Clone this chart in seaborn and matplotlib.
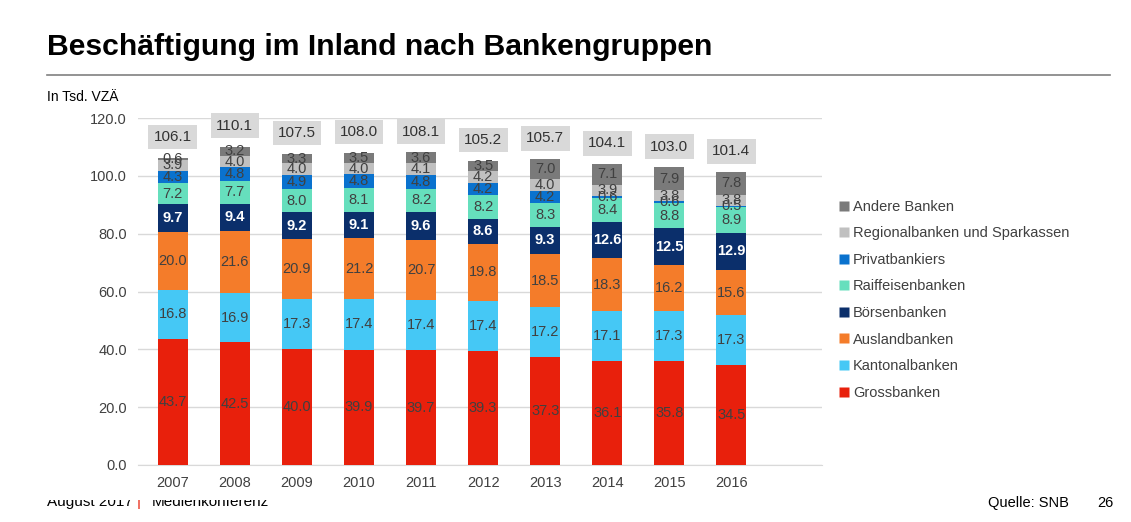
import matplotlib
matplotlib.use("Agg")
import matplotlib.pyplot as plt
from matplotlib.patches import Rectangle
from matplotlib.lines import Line2D
import seaborn as sns
import pandas as pd
import numpy as np

years = [2007, 2008, 2009, 2010, 2011, 2012, 2013, 2014, 2015, 2016]
grossbanken = [43.7, 42.5, 40.0, 39.9, 39.7, 39.3, 37.3, 36.1, 35.8, 34.5]
kantonalbanken = [16.8, 16.9, 17.3, 17.4, 17.4, 17.4, 17.2, 17.1, 17.3, 17.3]
auslandbanken = [20.0, 21.6, 20.9, 21.2, 20.7, 19.8, 18.5, 18.3, 16.2, 15.6]
boersenbanken = [9.7, 9.4, 9.2, 9.1, 9.6, 8.6, 9.3, 12.6, 12.5, 12.9]
raiffeisenbanken = [7.2, 7.7, 8.0, 8.1, 8.2, 8.2, 8.3, 8.4, 8.8, 8.9]
privatbankiers = [4.3, 4.8, 4.9, 4.8, 4.8, 4.2, 4.2, 0.6, 0.6, 0.5]
regionalbanken = [3.9, 4.0, 4.0, 4.0, 4.1, 4.2, 4.0, 3.9, 3.8, 3.8]
andere = [0.6, 3.2, 3.3, 3.5, 3.6, 3.5, 7.0, 7.1, 7.9, 7.8]
totals = [106.1, 110.1, 107.5, 108.0, 108.1, 105.2, 105.7, 104.1, 103.0, 101.4]

# bottom -> top
series_names = ["Grossbanken", "Kantonalbanken", "Auslandbanken", "Börsenbanken",
                "Raiffeisenbanken", "Privatbankiers", "Regionalbanken und Sparkassen",
                "Andere Banken"]
series_values = [grossbanken, kantonalbanken, auslandbanken, boersenbanken,
                 raiffeisenbanken, privatbankiers, regionalbanken, andere]
colors = ["#E8200C", "#45C8F5", "#F47C2A", "#0B2F6B", "#66DFBD", "#0A72CE",
          "#C0C0C0", "#7A7A7A"]
label_colors = ["#404040", "#404040", "#404040", "white", "#404040", "#404040",
                "#404040", "#404040"]

rows = []
for name, vals in zip(series_names, series_values):
    for i, v in enumerate(vals):
        rows.append({"idx": i, "Gruppe": name, "Wert": v})
df = pd.DataFrame(rows)

plt.rcParams["font.family"] = ["Liberation Sans", "DejaVu Sans"]
W, H = 1131, 522
fig = plt.figure(figsize=(W / 100, H / 100), dpi=100)
ax = fig.add_axes([138 / W, 1 - 465 / H, 684 / W, (465 - 118) / H])
ax.set_zorder(5)

palette = dict(zip(series_names, colors))
sns.histplot(data=df, x="idx", weights="Wert", hue="Gruppe",
             hue_order=series_names[::-1], multiple="stack", discrete=True,
             shrink=0.48, palette=palette, alpha=1, linewidth=0, legend=False,
             ax=ax, zorder=3)

ax.set_xlim(-0.56, 10.46)
ax.set_ylim(0, 120)
ax.set_yticks(np.arange(0, 121, 20))
ax.set_yticklabels([f"{v:.1f}" for v in np.arange(0, 121, 20)])
ax.set_xticks(range(len(years)))
ax.set_xticklabels([str(y) for y in years])
ax.tick_params(axis="both", length=0, labelsize=10.5, colors="#404040", pad=8)
ax.set_xlabel("")
ax.set_ylabel("")
ax.grid(axis="y", color="#D9D9D9", linewidth=1)
ax.set_axisbelow(True)
for s in ["top", "right", "left"]:
    ax.spines[s].set_visible(False)
ax.spines["bottom"].set_color("#D9D9D9")

# segment labels
cum = np.zeros(len(years))
for name, vals, lc in zip(series_names, series_values, label_colors):
    vals = np.array(vals)
    for i, v in enumerate(vals):
        ax.text(i, cum[i] + v / 2, f"{v:.1f}", ha="center", va="center",
                fontsize=10.5, color=lc,
                fontweight="bold" if lc == "white" else "normal", zorder=6)
    cum += vals

# total labels
for i, t in enumerate(totals):
    ax.text(i, cum[i] + 7.2, f"{t:.1f}", ha="center", va="center", fontsize=11,
            color="#333333", zorder=6, clip_on=False,
            bbox=dict(boxstyle="square,pad=0.35", fc="#D9D9D9", ec="none"))

# legend
handles = [Line2D([0], [0], marker="s", linestyle="none", markersize=7,
                  markerfacecolor=c, markeredgecolor="none")
           for c in colors[::-1]]
fig.legend(handles, series_names[::-1], loc="upper left",
           bbox_to_anchor=(831 / W, 1 - 194 / H), frameon=False, fontsize=10.5,
           labelcolor="#404040", handletextpad=0.1, handlelength=1.0,
           labelspacing=0.86, borderaxespad=0)

# title and decorations
fig.text(47 / W, 1 - 55 / H, "Beschäftigung im Inland nach Bankengruppen",
         fontsize=21.7, fontweight="bold", va="baseline", ha="left",
         color="black")
fig.add_artist(Line2D([47 / W, 1110 / W], [1 - 75 / H, 1 - 75 / H],
                      transform=fig.transFigure, color="#808080", linewidth=1.2))
fig.text(47 / W, 1 - 97 / H, "In Tsd. VZÄ", fontsize=10, va="center",
         ha="left", color="black")

# footer (partially hidden)
fig.text(47 / W, 1 - 506 / H, "August 2017", fontsize=11, va="baseline",
         color="black", zorder=3)
fig.text(137 / W, 1 - 506 / H, "|", fontsize=11, va="baseline",
         color="#E8200C", zorder=3)
fig.text(152 / W, 1 - 506 / H, "Medienkonferenz", fontsize=11, va="baseline",
         color="black", zorder=3)
fig.add_artist(Rectangle((40 / W, 1 - 500 / H), 240 / W, 30 / H,
                         transform=fig.transFigure, facecolor="white",
                         edgecolor="none", zorder=4))
fig.text(988 / W, 1 - 507 / H, "Quelle: SNB", fontsize=10.5, va="baseline",
         color="black")
fig.text(1097 / W, 1 - 507 / H, "26", fontsize=10.5, va="baseline",
         color="black")

fig.savefig("out.png", dpi=100)
